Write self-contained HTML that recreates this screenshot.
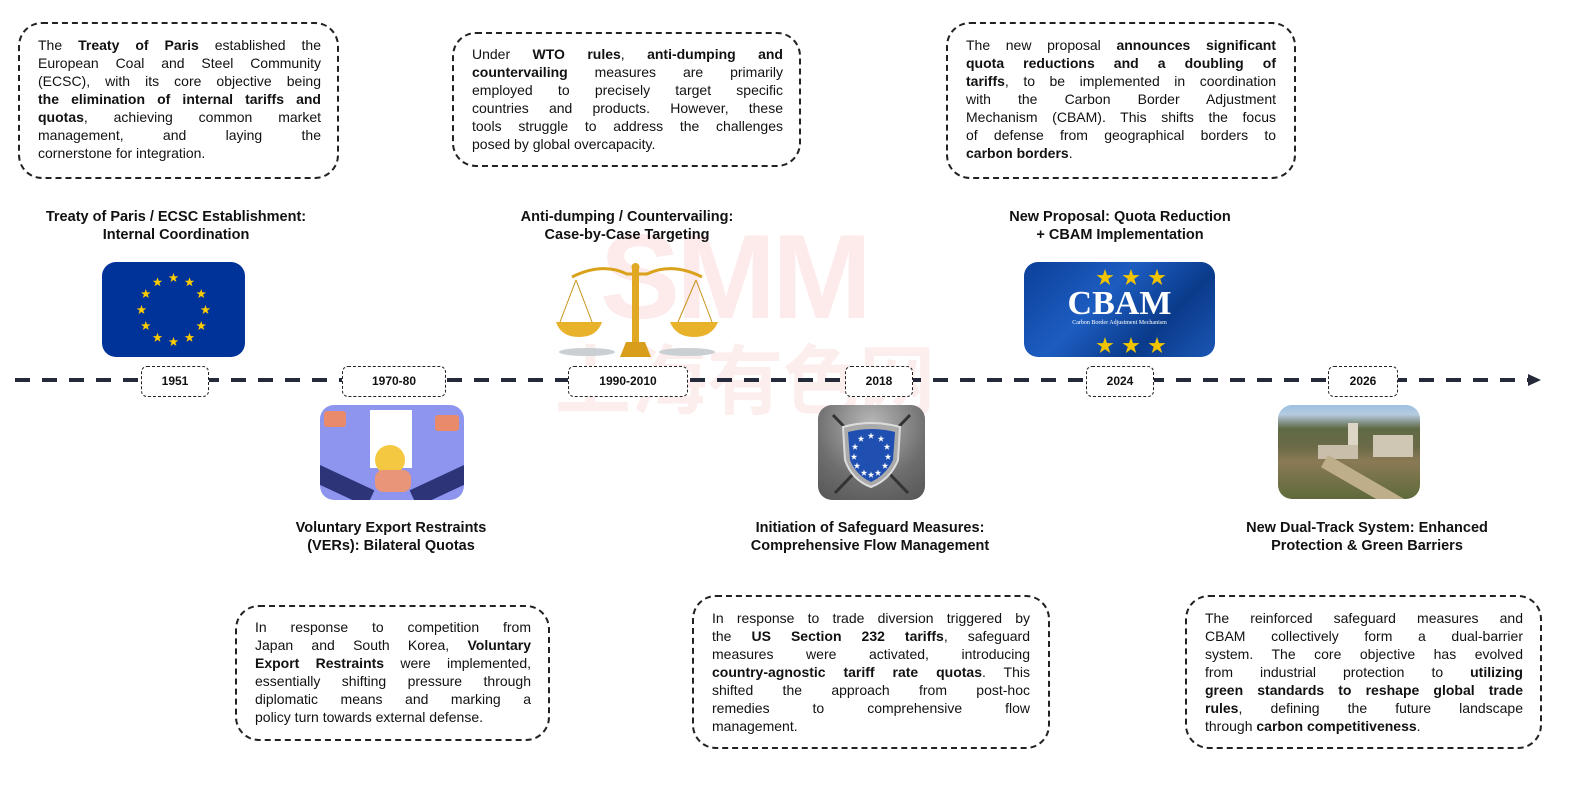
<!DOCTYPE html>
<html><head><meta charset="utf-8"><style>
*{margin:0;padding:0;box-sizing:border-box}
body{width:1580px;height:786px;background:#fff;position:relative;overflow:hidden;font-family:"Liberation Sans","Noto Sans CJK SC",sans-serif;color:#111}
.box{position:absolute;border:2px dashed #222;border-radius:24px}
.tx{position:absolute;font-size:14px;line-height:18px}
.tx div{text-align:justify;text-align-last:justify;white-space:nowrap;overflow:visible}
.tx div.l{text-align-last:left}
.ttl{position:absolute;font-weight:bold;font-size:14.5px;line-height:18px;text-align:center;white-space:nowrap}
.yr{position:absolute;top:366px;height:31px;border:1.3px dashed #222;border-radius:6px;background:#fff;font-weight:bold;font-size:12px;text-align:center;line-height:29px}
.img{position:absolute;border-radius:14px;overflow:hidden}
b{font-weight:bold}
</style></head><body>

<!-- watermark -->
<div style="position:absolute;left:600px;top:222px;font-size:120px;font-weight:bold;color:#fdeaea;letter-spacing:-4px;line-height:110px">SMM</div>
<div style="position:absolute;left:555px;top:335px;font-size:76px;font-weight:bold;color:#fdeeee;line-height:80px;font-family:'Noto Sans CJK SC',sans-serif">上海有色网</div>

<!-- timeline -->
<svg style="position:absolute;left:0;top:0" width="1580" height="786">
<line x1="15" y1="380" x2="1530" y2="380" stroke="#252a3a" stroke-width="4" stroke-dasharray="15 12"/>
<polygon points="1528,374 1541,380 1528,386" fill="#252a3a"/>
</svg>

<!-- top boxes -->
<div class="box" style="left:18px;top:22px;width:321px;height:157px"></div>
<div class="tx" style="left:38px;top:36px;width:283px">
<div>The <b>Treaty of Paris</b> established the</div>
<div>European Coal and Steel Community</div>
<div>(ECSC), with its core objective being</div>
<div><b>the elimination of internal tariffs and</b></div>
<div><b>quotas</b>, achieving common market</div>
<div>management, and laying the</div>
<div class="l">cornerstone for integration.</div>
</div>

<div class="box" style="left:452px;top:32px;width:349px;height:135px"></div>
<div class="tx" style="left:472px;top:45px;width:311px">
<div>Under <b>WTO rules</b>, <b>anti-dumping and</b></div>
<div><b>countervailing</b> measures are primarily</div>
<div>employed to precisely target specific</div>
<div>countries and products. However, these</div>
<div>tools struggle to address the challenges</div>
<div class="l">posed by global overcapacity.</div>
</div>

<div class="box" style="left:946px;top:22px;width:350px;height:157px"></div>
<div class="tx" style="left:966px;top:36px;width:310px">
<div>The new proposal <b>announces significant</b></div>
<div><b>quota reductions and a doubling of</b></div>
<div><b>tariffs</b>, to be implemented in coordination</div>
<div>with the Carbon Border Adjustment</div>
<div>Mechanism (CBAM). This shifts the focus</div>
<div>of defense from geographical borders to</div>
<div class="l"><b>carbon borders</b>.</div>
</div>

<!-- top titles -->
<div class="ttl" style="left:0;width:352px;top:208px">Treaty of Paris / ECSC Establishment:<br>Internal Coordination</div>
<div class="ttl" style="left:477px;width:300px;top:208px">Anti-dumping / Countervailing:<br>Case-by-Case Targeting</div>
<div class="ttl" style="left:970px;width:300px;top:208px">New Proposal: Quota Reduction<br>+ CBAM Implementation</div>

<!-- EU flag -->
<div class="img" style="left:102px;top:262px;width:143px;height:95px;background:#003399">
<svg width="143" height="95" viewBox="0 0 143 95">
<defs><polygon id="st" points="0,-5 1.2,-1.6 4.8,-1.6 1.9,0.6 3,4 0,2 -3,4 -1.9,0.6 -4.8,-1.6 -1.2,-1.6" fill="#ffcc00"/></defs>
<use href="#st" x="71.5" y="16"/><use href="#st" x="87.5" y="20.3"/><use href="#st" x="99.2" y="32"/><use href="#st" x="103.5" y="48"/><use href="#st" x="99.2" y="64"/><use href="#st" x="87.5" y="75.7"/><use href="#st" x="71.5" y="80"/><use href="#st" x="55.5" y="75.7"/><use href="#st" x="43.8" y="64"/><use href="#st" x="39.5" y="48"/><use href="#st" x="43.8" y="32"/><use href="#st" x="55.5" y="20.3"/>
</svg></div>

<!-- scales -->
<div class="img" style="left:552px;top:262px;width:168px;height:100px;border-radius:0">
<svg width="168" height="100" viewBox="0 0 168 100">
<ellipse cx="35" cy="90" rx="28" ry="4" fill="#c9cfd3"/><ellipse cx="135" cy="90" rx="28" ry="4" fill="#c9cfd3"/>
<path d="M20,15 Q50,0 75,12 L95,12 Q120,0 150,15" stroke="#d9a21a" stroke-width="3" fill="none"/>
<line x1="24" y1="18" x2="8" y2="60" stroke="#c8911a"/><line x1="24" y1="18" x2="40" y2="60" stroke="#c8911a"/>
<line x1="144" y1="18" x2="126" y2="60" stroke="#c8911a"/><line x1="144" y1="18" x2="160" y2="60" stroke="#c8911a"/>
<path d="M4,60 L50,60 Q45,75 27,75 Q9,75 4,60Z" fill="#e8b22a"/>
<path d="M118,60 L166,60 Q160,75 142,75 Q124,75 118,60Z" fill="#e8b22a"/>
<rect x="80" y="5" width="7" height="75" fill="#e0a823"/><circle cx="83.5" cy="5" r="4" fill="#e0a823"/>
<path d="M68,95 L99,95 L93,80 L74,80Z" fill="#d99d1c"/>
</svg></div>

<!-- CBAM -->
<div class="img" style="left:1024px;top:262px;width:191px;height:95px;background:linear-gradient(135deg,#0b3f9a,#1d5dc0 40%,#0a3a8a 70%,#1b57b5)">
<div style="position:absolute;left:0;width:191px;top:24px;text-align:center;color:#fff;font-family:'Liberation Serif',serif;font-weight:bold;font-size:34px;line-height:36px">CBAM</div>
<div style="position:absolute;left:0;width:191px;top:58px;text-align:center;color:#fff;font-family:'Liberation Serif',serif;font-size:6px">Carbon Border Adjustment Mechanism</div>
<div style="position:absolute;left:72px;top:2px;color:#f2c400;font-size:18px;letter-spacing:8px">★★★</div>
<div style="position:absolute;left:72px;top:70px;color:#f2c400;font-size:18px;letter-spacing:8px">★★★</div>
</div>

<!-- years -->
<div class="yr" style="left:141px;width:68px">1951</div>
<div class="yr" style="left:342px;width:104px">1970-80</div>
<div class="yr" style="left:568px;width:120px">1990-2010</div>
<div class="yr" style="left:845px;width:68px">2018</div>
<div class="yr" style="left:1086px;width:68px">2024</div>
<div class="yr" style="left:1328px;width:70px">2026</div>

<!-- VERs image -->
<div class="img" style="left:320px;top:405px;width:144px;height:95px;background:#8d95ef">
<div style="position:absolute;left:50px;top:5px;width:42px;height:58px;background:#fff"></div>
<div style="position:absolute;left:55px;top:40px;width:30px;height:30px;border-radius:50%;background:#f5c842"></div>
<div style="position:absolute;left:4px;top:6px;width:22px;height:16px;background:#e98a6a;border-radius:3px"></div>
<div style="position:absolute;left:115px;top:10px;width:24px;height:16px;background:#e98a6a;border-radius:3px"></div>
<div style="position:absolute;left:0;top:60px;width:60px;height:18px;background:#2d3478;transform:rotate(25deg);transform-origin:0 0"></div>
<div style="position:absolute;right:0;top:60px;width:60px;height:18px;background:#2d3478;transform:rotate(-25deg);transform-origin:100% 0"></div>
<div style="position:absolute;left:55px;top:65px;width:36px;height:22px;background:#e9957a;border-radius:8px"></div>
</div>

<!-- shield -->
<div class="img" style="left:818px;top:405px;width:107px;height:95px;background:radial-gradient(circle at 50% 20%,#b8b8b8,#6e6e6e 60%,#555)">
<svg width="107" height="95" viewBox="0 0 107 95">
<line x1="15" y1="10" x2="90" y2="88" stroke="#333" stroke-width="3"/><line x1="92" y1="10" x2="17" y2="88" stroke="#333" stroke-width="3"/>
<path d="M25,22 Q53,14 82,22 L80,55 Q72,75 53,82 Q34,75 27,55Z" fill="#aaa" stroke="#ddd" stroke-width="2"/>
<path d="M30,27 Q53,21 77,27 L75,55 Q68,70 53,77 Q38,70 32,55Z" fill="#1f4fb0"/>
<g fill="#fff" font-size="7" text-anchor="middle">
<text x="53" y="33">★</text><text x="63" y="36">★</text><text x="69" y="44">★</text><text x="70" y="54">★</text><text x="67" y="63">★</text><text x="60" y="70">★</text><text x="53" y="72">★</text><text x="46" y="70">★</text><text x="39" y="63">★</text><text x="36" y="54">★</text><text x="37" y="44">★</text><text x="43" y="36">★</text>
</g></svg></div>

<!-- castle -->
<div class="img" style="left:1278px;top:405px;width:142px;height:94px;background:linear-gradient(180deg,#9cc0e0 0%,#b6cbe0 10%,#5f6a45 25%,#6b6a48 45%,#8a7a55 60%,#5e6a3a 100%)">
<div style="position:absolute;left:70px;top:18px;width:10px;height:30px;background:#ddd6c6"></div>
<div style="position:absolute;left:95px;top:30px;width:40px;height:22px;background:#cfc6b3"></div>
<div style="position:absolute;left:40px;top:40px;width:40px;height:14px;background:#c8bea9"></div>
<div style="position:absolute;left:50px;top:50px;width:110px;height:14px;background:#bfae8a;transform:rotate(30deg);transform-origin:0 0"></div>
</div>

<!-- bottom titles -->
<div class="ttl" style="left:241px;width:300px;top:519px">Voluntary Export Restraints<br>(VERs): Bilateral Quotas</div>
<div class="ttl" style="left:720px;width:300px;top:519px">Initiation of Safeguard Measures:<br>Comprehensive Flow Management</div>
<div class="ttl" style="left:1217px;width:300px;top:519px">New Dual-Track System: Enhanced<br>Protection &amp; Green Barriers</div>

<!-- bottom boxes -->
<div class="box" style="left:235px;top:605px;width:315px;height:136px"></div>
<div class="tx" style="left:255px;top:618px;width:276px">
<div>In response to competition from</div>
<div>Japan and South Korea, <b>Voluntary</b></div>
<div><b>Export Restraints</b> were implemented,</div>
<div>essentially shifting pressure through</div>
<div>diplomatic means and marking a</div>
<div class="l">policy turn towards external defense.</div>
</div>

<div class="box" style="left:692px;top:595px;width:358px;height:154px"></div>
<div class="tx" style="left:712px;top:609px;width:318px">
<div>In response to trade diversion triggered by</div>
<div>the <b>US Section 232 tariffs</b>, safeguard</div>
<div>measures were activated, introducing</div>
<div><b>country-agnostic tariff rate quotas</b>. This</div>
<div>shifted the approach from post-hoc</div>
<div>remedies to comprehensive flow</div>
<div class="l">management.</div>
</div>

<div class="box" style="left:1185px;top:595px;width:357px;height:154px"></div>
<div class="tx" style="left:1205px;top:609px;width:318px">
<div>The reinforced safeguard measures and</div>
<div>CBAM collectively form a dual-barrier</div>
<div>system. The core objective has evolved</div>
<div>from industrial protection to <b>utilizing</b></div>
<div><b>green standards to reshape global trade</b></div>
<div><b>rules</b>, defining the future landscape</div>
<div class="l">through <b>carbon competitiveness</b>.</div>
</div>

</body></html>
